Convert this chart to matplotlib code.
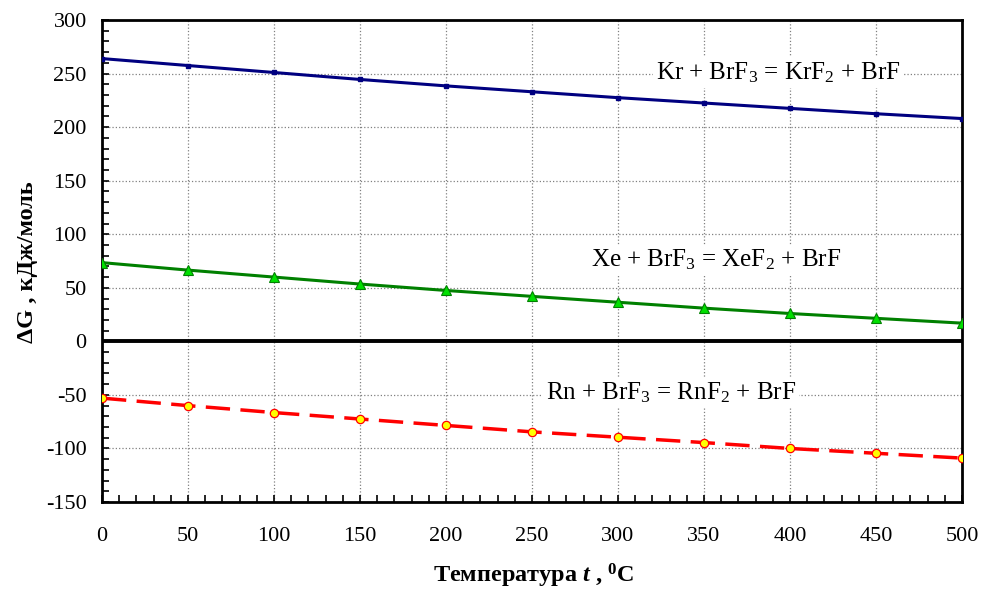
import matplotlib
matplotlib.use('Agg')
import matplotlib.pyplot as plt
from matplotlib.ticker import MultipleLocator

plt.rcParams['font.family'] = ['Liberation Serif', 'DejaVu Serif']
plt.rcParams['mathtext.fontset'] = 'custom'
plt.rcParams['mathtext.rm'] = 'Liberation Serif'
plt.rcParams['mathtext.it'] = 'Liberation Serif:italic'
plt.rcParams['mathtext.bf'] = 'Liberation Serif:bold'
plt.rcParams['mathtext.bfit'] = 'Liberation Serif:bold:italic'
plt.rcParams['axes.unicode_minus'] = False

# temperature, deg C
t = [0, 50, 100, 150, 200, 250, 300, 350, 400, 450, 500]
# Gibbs energy of reaction, kJ/mol
dG_kr = [264, 257.5, 251, 244.5, 238.5, 233, 227.5, 222.5, 217.5, 212.5, 208]
dG_xe = [73.5, 66.5, 60, 53.5, 47.5, 42, 36.5, 31, 26, 21.5, 17]
dG_rn = [-53, -60, -66.5, -72.5, -78.5, -84.5, -89.5, -94.5, -100, -104.5, -109]

lbl_kr = r'Kr + BrF$_3$ = KrF$_2$ + BrF'
lbl_xe = r'Xe + BrF$_3$ = XeF$_2$ + BrF'
lbl_rn = r'Rn + BrF$_3$ = RnF$_2$ + BrF'

fig = plt.figure(figsize=(9.81, 5.92), dpi=100)
ax = fig.add_axes([0.104, 0.152, 0.8766, 0.8142])

ax.axhline(0, color='black', lw=2.8, zorder=3)

ax.plot(t, dG_kr, color='#000080', lw=2.2, marker='s', ms=3.5, zorder=4)
ax.plot(t, dG_xe, color='#008000', lw=2.2, marker='^', ms=6.5,
        mfc='#00e000', mec='#008000', mew=0.8, zorder=4)
ax.plot(t, dG_rn, color='#ff0000', lw=2.5, dashes=(7, 3), marker='o', ms=6,
        mfc='#ffff00', mec='#ff0000', mew=0.9, zorder=4)

box = dict(facecolor='white', edgecolor='none', pad=2)
ax.text(393, 251, lbl_kr, fontsize=18, ha='center', va='center', bbox=box, zorder=2)
ax.text(357, 76, lbl_xe, fontsize=18, ha='center', va='center', bbox=box, zorder=2)
ax.text(331, -48, lbl_rn, fontsize=18, ha='center', va='center', bbox=box, zorder=2)

ax.set_xlim(0, 500)
ax.set_ylim(-150, 300)
ax.xaxis.set_major_locator(MultipleLocator(50))
ax.yaxis.set_major_locator(MultipleLocator(50))
ax.xaxis.set_minor_locator(MultipleLocator(10))
ax.yaxis.set_minor_locator(MultipleLocator(10))
ax.grid(True, which='major', color='#808080', ls=':', lw=0.9, zorder=1)
ax.set_axisbelow(True)

ax.tick_params(which='both', direction='in', length=5, width=1.2, labelsize=16)
ax.tick_params(axis='x', pad=18)
ax.tick_params(axis='y', pad=11)
for s in ax.spines.values():
    s.set_linewidth(2)

# axis titles placed in figure pixels
fig.text(33 / 981, 1 - 262 / 592, 'ΔG , кДж/моль', fontsize=17.5, fontweight='bold',
         rotation=90, rotation_mode='anchor', ha='center', va='baseline')
fig.text(534 / 981, 1 - 583 / 592, r'Температура $\mathbfit{t}$ , $^{\mathbf{0}}$C',
         fontsize=17.5, fontweight='bold', ha='center', va='baseline')

fig.savefig('out.png', dpi=100)
